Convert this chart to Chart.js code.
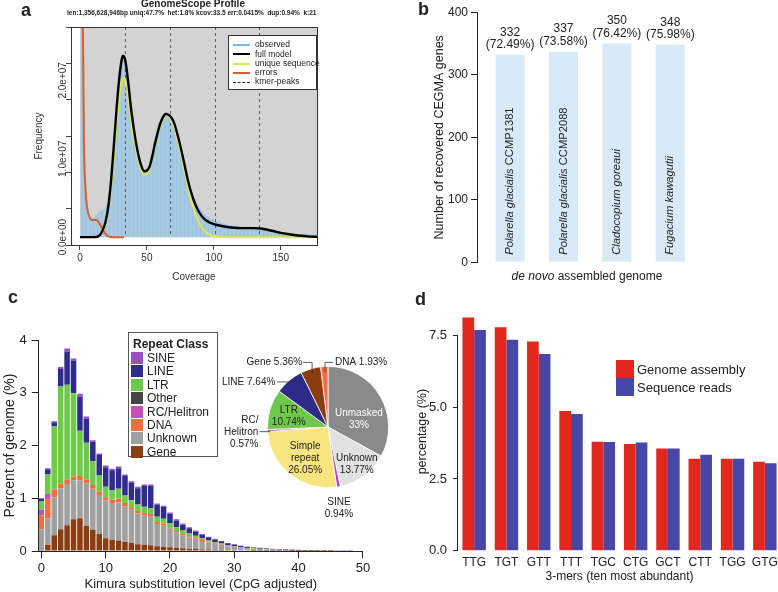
<!DOCTYPE html>
<html>
<head>
<meta charset="utf-8">
<title>Genome assembly panels</title>
<script src="https://cdn.jsdelivr.net/npm/chart.js@4.4.1/dist/chart.umd.min.js"></script>
<style>
  html, body { margin: 0; padding: 0; background: #fff; }
  body { width: 778px; height: 592px; position: relative; overflow: hidden;
         font-family: "Liberation Sans", Arial, Helvetica, sans-serif; color: #222; }
  canvas { position: absolute; }
  .t { position: absolute; white-space: nowrap; line-height: 1; }
  .tag { font-weight: bold; font-size: 18px; line-height: 18px; }
  .box { position: absolute; background: #fff; border: 1px solid #333; }
  .item { position: absolute; left: 0; white-space: nowrap; }
</style>
</head>
<body>
<canvas id="scopeChart" width="330" height="290" style="left:0;top:0"></canvas>
<canvas id="cegmaChart" width="398" height="290" style="left:380px;top:0"></canvas>
<canvas id="landscapeChart" width="380" height="302" style="left:0;top:290px"></canvas>
<canvas id="kmerChart" width="400" height="302" style="left:390px;top:290px"></canvas>
<canvas id="pieChart" width="270" height="180" style="left:200px;top:340px"></canvas>

<div class="t tag" style="left:21px;top:1px">a</div>
<div class="t tag" style="left:418px;top:0">b</div>
<div class="t tag" style="left:8px;top:288px">c</div>
<div class="t tag" style="left:415px;top:290px">d</div>

<div class="t" style="left:93px;width:200px;text-align:center;top:-1px;font-size:10px;font-weight:bold">GenomeScope Profile</div>
<div class="t" id="scopeSub" style="left:67px;top:10px;font-size:7px;font-weight:bold">len:1,356,628,946bp uniq:47.7%&nbsp; het:1.8% kcov:33.5 err:0.0415%&nbsp; dup:0.94%&nbsp; k:21</div>
<div class="box" id="scopeLegend" style="left:228px;top:35px;width:87px;height:53px"></div>

<div class="t" style="left:487px;width:200px;text-align:center;top:270px;font-size:12px"><i>de novo</i> assembled genome</div>

<div class="box" id="repeatLegend" style="left:128px;top:332px;width:88px;height:123px;border-color:#555"></div>
<div id="kmerLegend"></div>

<script>
// ---- panel a: GenomeScope k-mer profile (values in millions) ----
const kmerPeaks = [33.5, 67, 100.5, 134];
const scopeYLabels = [0, 1e7, 2e7];
const observedM = [
  90, 45, 14, 6.0, 3.3, 2.8, 2.6, 2.5, 2.5, 2.5,
  2.6, 2.8, 3.0, 3.2, 3.3, 3.4, 3.5, 3.6, 3.8, 4.2,
  5.2, 6.6, 8.5, 10.6, 12.9, 15.2, 17.4, 18.9, 20.4, 21.7,
  22.7, 23.3, 23.2, 22.6, 21.4, 20.0, 18.4, 16.8, 15.3, 14.0,
  12.6, 11.4, 10.4, 9.6, 9.0, 8.7, 8.5, 8.4, 8.5, 8.8,
  9.2, 9.8, 10.5, 11.3, 12.1, 12.9, 13.6, 14.2, 14.7, 15.1,
  15.4, 15.6, 15.7, 15.7, 15.6, 15.4, 15.1, 14.7, 14.2, 13.6,
  13.0, 12.3, 11.6, 10.9, 10.2, 9.5, 8.8, 8.2, 7.6, 7.0,
  6.5, 6.0, 5.6, 5.2, 4.8, 4.5, 4.2, 3.9, 3.7, 3.5,
  3.3, 3.1, 3.0, 2.8, 2.7, 2.6, 2.5, 2.4, 2.3, 2.2,
  2.1, 2.0, 1.95, 1.9, 1.85, 1.8, 1.75, 1.7, 1.65, 1.6,
  1.55, 1.55, 1.5, 1.5, 1.5, 1.45, 1.45, 1.45, 1.4, 1.4,
  1.4, 1.4, 1.35, 1.35, 1.35, 1.3, 1.3, 1.3, 1.25, 1.25,
  1.2, 1.2, 1.15, 1.15, 1.1, 1.1, 1.05, 1.0, 1.0, 0.95,
  0.9, 0.9, 0.85, 0.85, 0.8, 0.8, 0.75, 0.75, 0.7, 0.7,
  0.65, 0.65, 0.62, 0.6, 0.58, 0.56, 0.54, 0.52, 0.5, 0.48,
  0.47, 0.46, 0.45, 0.44, 0.43, 0.42, 0.41, 0.4, 0.4, 0.39,
  0.38, 0.38, 0.37, 0.37, 0.36, 0.36, 0.35
];
const modelCoverage = [0, 5, 10, 13, 15, 17, 19, 21, 23, 25, 27, 29, 31, 32, 33, 34, 36, 38, 40, 42,
  44, 46, 48, 50, 52, 54, 56, 58, 60, 62, 64, 66, 68, 70, 72, 75, 78, 80, 82, 85,
  88, 90, 93, 96, 100, 105, 110, 115, 120, 125, 130, 135, 140, 145, 150, 155, 160, 165, 170, 175, 177];
const fullModelM = [0, 0, 0, 0.05, 0.3, 0.9, 1.9, 3.7, 6.8, 11.0, 15.6, 19.7, 22.5, 23.1, 23.0, 22.4, 19.8, 16.6, 14.1, 11.9,
  10.2, 9.0, 8.4, 8.5, 9.0, 10.3, 11.9, 13.3, 14.5, 15.3, 15.7, 15.6, 15.3, 14.7, 13.6, 11.6, 9.3, 7.7, 6.3, 4.7,
  3.5, 2.9, 2.3, 1.95, 1.65, 1.45, 1.3, 1.2, 1.15, 1.15, 1.15, 1.1, 0.95, 0.75, 0.55, 0.4, 0.28, 0.18, 0.1, 0.05, 0.04];
const uniqueM = [0, 0, 0, 0.04, 0.25, 0.8, 1.6, 3.2, 5.9, 9.6, 13.6, 17.2, 19.7, 20.3, 20.3, 19.8, 17.8, 15.2, 13.0, 11.0,
  9.5, 8.5, 8.0, 8.1, 8.7, 10.0, 11.6, 13.0, 14.2, 15.0, 15.5, 15.4, 15.0, 14.4, 13.2, 11.0, 8.5, 6.8, 5.3, 3.5,
  2.2, 1.5, 0.8, 0.4, 0.15, 0.05, 0, 0, 0, 0, 0, 0, 0, 0, 0, 0, 0, 0, 0, 0, 0];
const errorCoverage = [1, 2, 3, 4, 5, 6, 7, 8, 9, 10, 11, 12, 13, 14, 15, 16, 17, 18, 19, 20, 21, 22, 23, 24, 33];
const errorsM = [60, 30, 12, 6.5, 4.2, 3.2, 2.6, 2.3, 2.2, 2.2, 2.2, 2.2, 2.1, 1.9, 1.6, 1.3, 1.0, 0.7, 0.45, 0.25, 0.12, 0.05, 0.02, 0, 0];

// ---- panel b: CEGMA recovery ----
const genomes = ['Polarella glacialis', 'Polarella glacialis', 'Cladocopium goreaui', 'Fugacium kawagutii'];
const strains = ['CCMP1381', 'CCMP2088', '', ''];
const cegmaGenes = [332, 337, 350, 348];
const cegmaPercent = ['72.49%', '73.58%', '76.42%', '75.98%'];

// ---- panel c: repeat landscape + composition ----
const kimuraLevels = [0, 1, 2, 3, 4, 5, 6, 7, 8, 9, 10, 11, 12, 13, 14, 15, 16, 17, 18, 19, 20, 21, 22, 23, 24,
  25, 26, 27, 28, 29, 30, 31, 32, 33, 34, 35, 36, 37, 38, 39, 40, 41, 42, 43, 44, 45, 46, 47, 48];
const repeatGene = [0.02, 0.12, 0.30, 0.41, 0.49, 0.60, 0.62, 0.48, 0.40, 0.32, 0.24, 0.21, 0.20, 0.17, 0.15, 0.13, 0.12, 0.11, 0.09, 0.08,
  0.07, 0.06, 0.05, 0.04, 0.04, 0.03, 0.03, 0.02, 0.02, 0.015, 0.012, 0.01, 0.008, 0.007, 0.006, 0.005, 0.004, 0.003, 0.003, 0.002,
  0.002, 0.002, 0.001, 0.001, 0.001, 0.001, 0, 0, 0];
const repeatUnknown = [0.39, 0.50, 0.72, 0.78, 0.78, 0.74, 0.72, 0.80, 0.78, 0.74, 0.72, 0.70, 0.72, 0.68, 0.63, 0.58, 0.55, 0.54, 0.42, 0.40,
  0.35, 0.29, 0.25, 0.22, 0.19, 0.16, 0.13, 0.115, 0.095, 0.075, 0.065, 0.05, 0.04, 0.035, 0.03, 0.025, 0.02, 0.018, 0.015, 0.012,
  0.01, 0.009, 0.008, 0.006, 0.005, 0.004, 0.003, 0.002, 0.002];
const repeatDNA = [0.27, 0.36, 0.14, 0.09, 0.09, 0.07, 0.08, 0.07, 0.07, 0.07, 0.06, 0.06, 0.07, 0.06, 0.05, 0.05, 0.05, 0.05, 0.04, 0.04,
  0.03, 0.03, 0.03, 0.02, 0.02, 0.02, 0.015, 0.01, 0.01, 0.008, 0.006, 0.005, 0.004, 0.003, 0.003, 0.002, 0.002, 0.002, 0.001, 0.001,
  0.001, 0.001, 0.001, 0, 0, 0, 0, 0, 0];
const repeatRC = [0.10, 0.10, 0.01, 0, 0, 0, 0, 0, 0, 0, 0, 0, 0, 0, 0, 0, 0, 0, 0, 0,
  0, 0, 0, 0, 0, 0, 0, 0, 0, 0, 0, 0, 0, 0, 0, 0, 0, 0, 0, 0, 0, 0, 0, 0, 0, 0, 0, 0, 0];
const repeatOther = [0, 0, 0, 0, 0, 0, 0, 0, 0, 0, 0, 0, 0, 0, 0, 0, 0, 0, 0, 0,
  0, 0, 0, 0, 0, 0, 0, 0, 0, 0, 0, 0, 0, 0, 0, 0, 0, 0, 0, 0, 0, 0, 0, 0, 0, 0, 0, 0, 0];
const repeatLTR = [0.17, 0.37, 1.19, 1.84, 1.79, 1.58, 0.86, 0.70, 0.45, 0.30, 0.20, 0.18, 0.19, 0.15, 0.13, 0.12, 0.12, 0.11, 0.10, 0.09,
  0.08, 0.07, 0.06, 0.05, 0.04, 0.03, 0.025, 0.02, 0.015, 0.012, 0.01, 0.008, 0.006, 0.005, 0.004, 0.004, 0.003, 0.003, 0.002, 0.002,
  0.002, 0.001, 0.001, 0.001, 0.001, 0.001, 0.001, 0, 0];
const repeatLINE = [0.045, 0.10, 0.08, 0.33, 0.63, 0.62, 0.65, 0.46, 0.37, 0.39, 0.37, 0.38, 0.39, 0.36, 0.33, 0.31, 0.39, 0.42, 0.23, 0.23,
  0.18, 0.13, 0.11, 0.10, 0.08, 0.07, 0.06, 0.055, 0.045, 0.035, 0.03, 0.022, 0.018, 0.016, 0.014, 0.012, 0.01, 0.009, 0.008, 0.007,
  0.006, 0.005, 0.004, 0.004, 0.003, 0.003, 0.002, 0.002, 0.002];
const repeatSINE = [0.005, 0.02, 0.02, 0.04, 0.06, 0.04, 0.05, 0.04, 0.03, 0.03, 0.03, 0.03, 0.03, 0.03, 0.03, 0.03, 0.03, 0.03, 0.02, 0.02,
  0.02, 0.02, 0.02, 0.02, 0.02, 0.01, 0.01, 0.01, 0.005, 0.005, 0.005, 0.005, 0.004, 0.004, 0.003, 0.003, 0.003, 0.003, 0.003, 0.003,
  0.002, 0.002, 0.002, 0.002, 0.002, 0.002, 0.002, 0.001, 0.001];

const pieNames = ['Unmasked', 'Unknown', 'SINE', 'Simple repeat', 'RC/Helitron', 'LTR', 'LINE', 'Gene', 'DNA'];
const pieShares = [33, 13.77, 0.94, 26.05, 0.57, 10.74, 7.64, 5.36, 1.93];

// ---- panel d: 3-mers ----
const trimers = ['TTG', 'TGT', 'GTT', 'TTT', 'TGC', 'CTG', 'GCT', 'CTT', 'TGG', 'GTG'];
const assemblyPct = [8.13, 7.79, 7.29, 4.87, 3.80, 3.72, 3.56, 3.20, 3.20, 3.10];
const readsPct = [7.69, 7.35, 6.85, 4.76, 3.79, 3.77, 3.56, 3.34, 3.20, 3.05];

// ---------------------------------------------------------------
Chart.defaults.font.family = '"Liberation Sans", Arial, Helvetica, sans-serif';
Chart.defaults.color = '#222';
Chart.defaults.animation = false;
Chart.defaults.responsive = false;
Chart.defaults.plugins.legend.display = false;
Chart.defaults.plugins.tooltip.enabled = false;

const sci = v => {
  const [m, e] = Number(v).toExponential(1).split('e');
  return m + 'e' + e[0] + e.slice(1).padStart(2, '0');
};

const scopeColors = { observed: '#96c5e5', full: '#000000', unique: '#e4e44c', errors: '#d9602a' };

const scopeDecor = {
  id: 'scopeDecor',
  beforeDatasetsDraw(chart) {
    const { ctx, chartArea: a, scales: { x, y } } = chart;
    const x0 = x.getPixelForValue(0), y0 = y.getPixelForValue(0);
    ctx.save();
    ctx.fillStyle = '#d3d3d3';
    ctx.fillRect(x0, a.top, a.right - x0, y0 - a.top);
    ctx.restore();
  },
  afterDatasetDraw(chart, args) {
    if (args.meta.type !== 'bar') return;
    const { ctx, chartArea: a, scales: { x, y } } = chart;
    ctx.save();
    ctx.strokeStyle = '#444';
    ctx.lineWidth = 0.8;
    ctx.setLineDash([3, 3]);
    kmerPeaks.forEach(p => {
      const px = Math.round(x.getPixelForValue(p)) + 0.5;
      ctx.beginPath();
      ctx.moveTo(px, a.top);
      ctx.lineTo(px, y.getPixelForValue(0));
      ctx.stroke();
    });
    ctx.restore();
  },
  afterDraw(chart) {
    const { ctx, chartArea: a } = chart;
    const y = chart.scales.y;
    ctx.save();
    ctx.strokeStyle = '#333';
    ctx.lineWidth = 1;
    ctx.strokeRect(Math.round(a.left) + 0.5, Math.round(a.top) + 0.5, Math.round(a.right - a.left), Math.round(a.bottom - a.top));
    ctx.restore();
    // R-style vertical tick labels at the scale's own pixel positions
    scopeYLabels.forEach(v => {
      ctx.save();
      ctx.fillStyle = '#333';
      ctx.font = '10px "Liberation Sans", Arial, sans-serif';
      ctx.textAlign = 'center';
      ctx.textBaseline = 'middle';
      ctx.translate(a.left - 8, y.getPixelForValue(v));
      ctx.rotate(-Math.PI / 2);
      ctx.fillText(sci(v), 0, 0);
      ctx.restore();
    });
  }
};

new Chart(document.getElementById('scopeChart'), {
  type: 'bar',
  data: {
    datasets: [
      { type: 'line', label: 'full model', data: modelCoverage.map((c, i) => ({ x: c, y: fullModelM[i] * 1e6 })),
        borderColor: scopeColors.full, borderWidth: 2.4, pointRadius: 0, cubicInterpolationMode: 'monotone', order: 1 },
      { type: 'line', label: 'unique sequence', data: modelCoverage.map((c, i) => ({ x: c, y: uniqueM[i] * 1e6 })),
        borderColor: scopeColors.unique, borderWidth: 2, pointRadius: 0, cubicInterpolationMode: 'monotone', order: 2 },
      { type: 'line', label: 'errors', data: errorCoverage.map((c, i) => ({ x: c, y: errorsM[i] * 1e6 })),
        borderColor: scopeColors.errors, borderWidth: 2, pointRadius: 0, cubicInterpolationMode: 'monotone', order: 3 },
      { type: 'bar', label: 'observed', data: observedM.map((v, i) => ({ x: i + 1, y: v * 1e6 })),
        backgroundColor: scopeColors.observed, barPercentage: 0.82, categoryPercentage: 1, order: 10 }
    ]
  },
  options: {
    layout: { padding: { top: 27, right: 13, left: 0, bottom: 0 } },
    scales: {
      x: {
        type: 'linear', min: -6.7, max: 177, offset: false,
        afterFit: s => { s.height = 45; },
        ticks: { stepSize: 50, includeBounds: false, font: { size: 10 }, color: '#333', padding: 2 },
        grid: { drawOnChartArea: false, tickLength: 5, color: '#444', offset: false },
        border: { display: false },
        title: { display: true, text: 'Coverage', font: { size: 10 }, color: '#333', padding: { top: 0, bottom: 7 } }
      },
      y: {
        min: -1e6, max: 26.8e6,
        afterFit: s => { s.width = 71; },
        ticks: { stepSize: 5e6, includeBounds: false, color: 'rgba(0,0,0,0)' },
        grid: { drawOnChartArea: false, tickLength: 5, color: '#444' },
        border: { display: false },
        title: { display: true, text: 'Frequency', font: { size: 10 }, color: '#333', padding: { top: 33 } }
      }
    }
  },
  plugins: [scopeDecor]
});

// ---- panel b ----
const cegmaText = {
  id: 'cegmaText',
  afterDatasetsDraw(chart) {
    const { ctx } = chart;
    const fam = Chart.defaults.font.family;
    chart.getDatasetMeta(0).data.forEach((bar, i) => {
      ctx.save();
      ctx.fillStyle = '#222';
      ctx.textAlign = 'center';
      ctx.textBaseline = 'middle';
      ctx.font = '12px ' + fam;
      ctx.fillText(String(cegmaGenes[i]), bar.x, bar.y - 22.5);
      ctx.fillText('(' + cegmaPercent[i] + ')', bar.x, bar.y - 9.8);
      ctx.translate(bar.x, bar.base - 7);
      ctx.rotate(-Math.PI / 2);
      ctx.textAlign = 'left';
      ctx.font = 'italic 11.2px ' + fam;
      ctx.fillText(genomes[i], 0, 0);
      if (strains[i]) {
        const w = ctx.measureText(genomes[i] + ' ').width;
        ctx.font = '11.2px ' + fam;
        ctx.fillText(strains[i], w, 0);
      }
      ctx.restore();
    });
  }
};

new Chart(document.getElementById('cegmaChart'), {
  type: 'bar',
  data: {
    datasets: [{ data: cegmaGenes.map((v, i) => ({ x: i, y: v })), backgroundColor: '#d8e9f8',
                 barPercentage: 0.543, categoryPercentage: 1 }]
  },
  options: {
    layout: { padding: { left: 50, top: 12.3, right: 81, bottom: 27.7 } },
    scales: {
      x: { type: 'linear', min: -0.62, max: 3.5, offset: false, display: false },
      y: {
        min: 0, max: 400,
        afterFit: s => { s.width = 47; },
        ticks: { stepSize: 100, font: { size: 12 }, color: '#222', padding: 3 },
        grid: { drawOnChartArea: false, tickLength: 6, color: '#222' },
        border: { color: '#222', width: 1 },
        title: { display: true, text: 'Number of recovered CEGMA genes', font: { size: 12.5 }, color: '#222', padding: { top: 2 } }
      }
    }
  },
  plugins: [cegmaText]
});

// ---- panel c: stacked landscape ----
const repeatClasses = [
  { name: 'SINE', color: '#9b4fc7', values: repeatSINE },
  { name: 'LINE', color: '#2f2c8d', values: repeatLINE },
  { name: 'LTR', color: '#6dca4b', values: repeatLTR },
  { name: 'Other', color: '#454545', values: repeatOther },
  { name: 'RC/Helitron', color: '#c650b3', values: repeatRC },
  { name: 'DNA', color: '#f46d3b', values: repeatDNA },
  { name: 'Unknown', color: '#a0a0a0', values: repeatUnknown },
  { name: 'Gene', color: '#8b3d12', values: repeatGene }
];

new Chart(document.getElementById('landscapeChart'), {
  type: 'bar',
  data: {
    datasets: repeatClasses.slice().reverse().map(rc => ({
      label: rc.name,
      data: kimuraLevels.map((k, i) => ({ x: k, y: rc.values[i] })),
      backgroundColor: rc.color, barPercentage: 0.86, categoryPercentage: 1
    }))
  },
  options: {
    layout: { padding: { left: 0, top: 50, right: 17.1, bottom: 0 } },
    scales: {
      x: {
        type: 'linear', stacked: true, min: -0.4, max: 50, offset: false,
        afterFit: s => { s.height = 41; },
        ticks: { stepSize: 10, includeBounds: false, font: { size: 13 }, color: '#222', padding: 3 },
        grid: { drawOnChartArea: false, tickLength: 7, color: '#222', offset: false },
        border: { color: '#222' },
        title: { display: true, text: 'Kimura substitution level (CpG adjusted)', font: { size: 13 }, color: '#222', padding: { top: 0, bottom: 0 } }
      },
      y: {
        stacked: true, min: 0, max: 4,
        afterFit: s => { s.width = 38.8; },
        ticks: { stepSize: 1, font: { size: 13 }, color: '#222', padding: 5 },
        grid: { drawOnChartArea: false, tickLength: 7, color: '#222' },
        border: { color: '#222' },
        title: { display: true, text: 'Percent of genome (%)', font: { size: 14 }, color: '#222', padding: { top: 2 } }
      }
    }
  }
});

// legend for panel c
(function () {
  const box = document.getElementById('repeatLegend');
  const head = document.createElement('div');
  head.className = 'item';
  head.style.cssText = 'left:4px;top:5px;font-weight:bold;font-size:12px;line-height:12px';
  head.textContent = 'Repeat Class';
  box.appendChild(head);
  repeatClasses.forEach((rc, i) => {
    const row = document.createElement('div');
    row.className = 'item';
    row.style.cssText = 'left:2px;top:' + (19 + i * 13.4) + 'px;height:13.4px;line-height:13.4px;font-size:12px';
    row.innerHTML = '<span style="display:inline-block;width:12px;height:12px;background:' + rc.color +
      ';vertical-align:-2px;margin-right:4px"></span>' + rc.name;
    box.appendChild(row);
  });
})();

// ---- panel c: pie ----
const pieColors = ['#8a8a8a', '#e1e1e1', '#9b47c8', '#f8e57f', '#c94fb5', '#6fc84a', '#2e2b88', '#8b3c10', '#f46d3a'];
const shareText = v => (v % 1 === 0 ? v + '%' : v.toFixed(2) + '%');
// label placement in units of the pie radius, relative to its centre
const pieLabelSpots = {
  'Unmasked':      { at: [0.51, -0.13], align: 'center', color: '#fff', lines: n => ['Unmasked', n] },
  'Unknown':       { at: [0.475, 0.61], align: 'center', color: '#222', lines: n => ['Unknown', n] },
  'Simple repeat': { at: [-0.377, 0.52], align: 'center', color: '#222', lines: n => ['Simple', 'repeat', n] },
  'LTR':           { at: [-0.647, -0.17], align: 'center', color: '#222', lines: n => ['LTR', n] },
  'Gene':          { at: [-0.426, -1.066], align: 'right', color: '#222', lines: n => ['Gene ' + n] },
  'DNA':           { at: [0.115, -1.066], align: 'left', color: '#222', lines: n => ['DNA ' + n] },
  'LINE':          { at: [-0.869, -0.743], align: 'right', color: '#222', lines: n => ['LINE ' + n] },
  'RC/Helitron':   { at: [-1.148, 0.09], align: 'right', color: '#222', lines: n => ['RC/', 'Helitron', n] },
  'SINE':          { at: [0.18, 1.345], align: 'center', color: '#222', lines: n => ['SINE', n] }
};
const pieLeaders = [
  [[-0.41, -1.066], [-0.262, -1.066], [-0.262, -0.87]],
  [[0.082, -1.066], [-0.05, -1.066], [-0.05, -0.9]],
  [[-0.836, -0.743], [-0.459, -0.743]],
  [[-1.13, 0.077], [-0.95, 0.077]]
];

const pieNotes = {
  id: 'pieNotes',
  afterDraw(chart) {
    const { ctx } = chart;
    const arc = chart.getDatasetMeta(0).data[0];
    const cx = arc.x, cy = arc.y, r = arc.outerRadius;
    ctx.save();
    ctx.strokeStyle = '#333';
    ctx.lineWidth = 0.8;
    pieLeaders.forEach(pts => {
      ctx.beginPath();
      pts.forEach(([dx, dy], j) => (j ? ctx.lineTo(cx + dx * r, cy + dy * r) : ctx.moveTo(cx + dx * r, cy + dy * r)));
      ctx.stroke();
    });
    ctx.font = '10px ' + Chart.defaults.font.family;
    ctx.textBaseline = 'middle';
    pieNames.forEach((name, i) => {
      const spot = pieLabelSpots[name];
      const lines = spot.lines(shareText(pieShares[i]));
      const lh = 12;
      const y0 = cy + spot.at[1] * r - (lines.length - 1) * lh / 2;
      ctx.fillStyle = spot.color;
      ctx.textAlign = spot.align;
      lines.forEach((ln, j) => ctx.fillText(ln, cx + spot.at[0] * r, y0 + j * lh));
    });
    ctx.restore();
  }
};

new Chart(document.getElementById('pieChart'), {
  type: 'pie',
  data: { labels: pieNames, datasets: [{ data: pieShares, backgroundColor: pieColors, borderColor: '#fff', borderWidth: 0.8 }] },
  options: { layout: { padding: { left: 67, top: 26, right: 81, bottom: 32 } } },
  plugins: [pieNotes]
});

// ---- panel d ----
const kmerColors = { assembly: '#e2271e', reads: '#4747a8' };
const kmerAxisLine = {
  id: 'kmerAxisLine',
  afterDraw(chart) {
    const { ctx, chartArea: a, scales: { y } } = chart;
    ctx.save();
    ctx.strokeStyle = '#222';
    ctx.lineWidth = 1;
    const x = Math.round(a.left) - 0.5;
    ctx.beginPath();
    ctx.moveTo(x, y.getPixelForValue(0));
    ctx.lineTo(x, y.getPixelForValue(7.5));
    ctx.stroke();
    ctx.restore();
  }
};

new Chart(document.getElementById('kmerChart'), {
  type: 'bar',
  data: {
    labels: trimers,
    datasets: [
      { label: 'Genome assembly', data: assemblyPct, backgroundColor: kmerColors.assembly, barPercentage: 1, categoryPercentage: 0.725 },
      { label: 'Sequence reads', data: readsPct, backgroundColor: kmerColors.reads, barPercentage: 1, categoryPercentage: 0.725 }
    ]
  },
  options: {
    layout: { padding: { left: 0, top: 22.5, right: 9, bottom: 0 } },
    scales: {
      x: {
        afterFit: s => { s.height = 41.3; },
        ticks: { font: { size: 12 }, color: '#222', padding: -3 },
        grid: { display: false },
        border: { display: false },
        title: { display: true, text: '3-mers (ten most abundant)', font: { size: 12 }, color: '#222', padding: { top: 0, bottom: 8 } }
      },
      y: {
        min: 0, max: 8.3,
        afterFit: s => { s.width = 68; },
        ticks: { stepSize: 2.5, includeBounds: false, font: { size: 13 }, color: '#222', padding: 6, callback: v => v.toFixed(1) },
        grid: { drawOnChartArea: false, tickLength: 5, color: '#222' },
        border: { display: false },
        title: { display: true, text: 'percentage (%)', font: { size: 12.5 }, color: '#222', padding: { top: 25 } }
      }
    }
  },
  plugins: [kmerAxisLine]
});

// legends for panel a and d
(function () {
  const box = document.getElementById('scopeLegend');
  const items = [
    { name: 'observed', color: '#7fb9e0', dash: false },
    { name: 'full model', color: scopeColors.full, dash: false },
    { name: 'unique sequence', color: scopeColors.unique, dash: false },
    { name: 'errors', color: scopeColors.errors, dash: false },
    { name: 'kmer-peaks', color: '#222', dash: true }
  ];
  items.forEach((it, i) => {
    const row = document.createElement('div');
    row.className = 'item';
    row.style.cssText = 'top:' + (3.3 + i * 9.25) + 'px;height:10px;line-height:10px;font-size:8.5px;color:#222';
    row.innerHTML = '<span style="display:inline-block;width:17px;margin:0 5px 0 4px;vertical-align:middle;border-top:' +
      (it.dash ? '1.5px dashed ' : '2px solid ') + it.color + '"></span>' + it.name;
    box.appendChild(row);
  });

  const kl = document.getElementById('kmerLegend');
  [['Genome assembly', kmerColors.assembly], ['Sequence reads', kmerColors.reads]].forEach(([name, color], i) => {
    const sq = document.createElement('div');
    sq.style.cssText = 'position:absolute;left:616px;top:' + (360 + i * 18.3) + 'px;width:17.6px;height:17.6px;background:' + color;
    kl.appendChild(sq);
    const tx = document.createElement('div');
    tx.className = 't';
    tx.style.cssText = 'left:637px;top:' + (362.5 + i * 18.3) + 'px;font-size:13px';
    tx.textContent = name;
    kl.appendChild(tx);
  });

  const sub = document.getElementById('scopeSub');
  const w = sub.getBoundingClientRect().width;
  sub.style.fontSize = (7 * 250 / w) + 'px';
})();
</script>
</body>
</html>
